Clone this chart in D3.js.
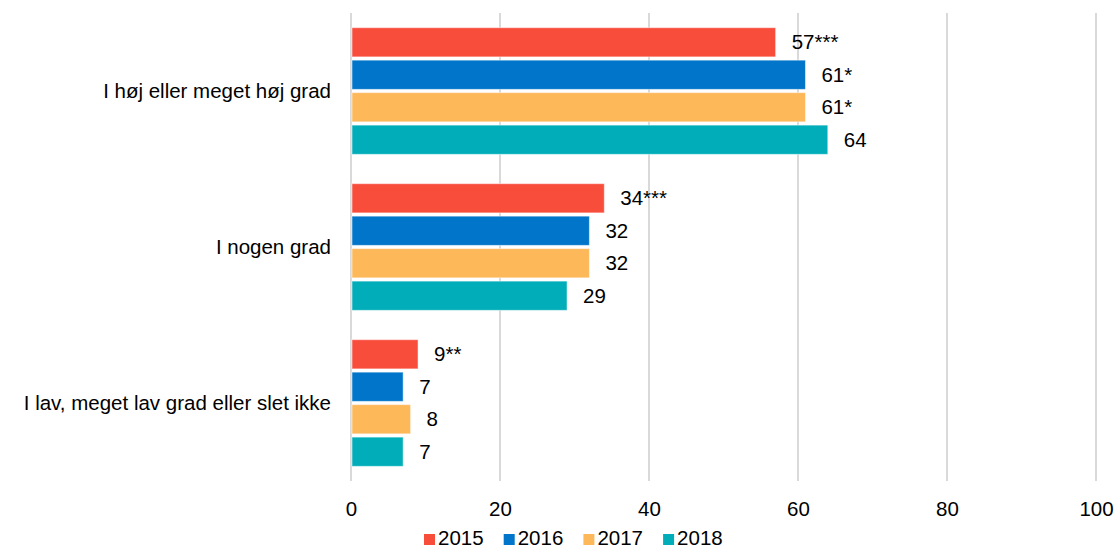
<!DOCTYPE html>
<html>
<head>
<meta charset="utf-8">
<script src="https://cdn.jsdelivr.net/npm/d3@7"></script>
<style>
  html, body { margin: 0; padding: 0; background: #fff; }
  svg { display: block; font-family: "Liberation Sans", Arial, sans-serif; }
</style>
</head>
<body>
<svg id="chart" width="1117" height="549"></svg>
<script>
const categories = ["I høj eller meget høj grad", "I nogen grad", "I lav, meget lav grad eller slet ikke"];
const years = ["2015", "2016", "2017", "2018"];
const colors = ["#F94D3C", "#0075C9", "#FDB859", "#00ADB8"];
const values2015 = [57, 34, 9];
const values2016 = [61, 32, 7];
const values2017 = [61, 32, 8];
const values2018 = [64, 29, 7];
const marks2015 = ["***", "***", "**"];
const marks2016 = ["*", "", ""];
const marks2017 = ["*", "", ""];
const marks2018 = ["", "", ""];
const xTicks = [0, 20, 40, 60, 80, 100];

const seriesValues = [values2015, values2016, values2017, values2018];
const seriesMarks = [marks2015, marks2016, marks2017, marks2018];

const svg = d3.select("#chart");
const fontSize = 20.5;

const x = d3.scaleLinear().domain([0, 100]).range([351, 1096]);
const y = d3.scaleBand().domain(categories).range([13, 481]).paddingInner(0.188).paddingOuter(0.094);
const yInner = d3.scaleBand().domain(years).range([0, y.bandwidth()]).paddingInner(0.1).paddingOuter(0);

// gridlines
svg.append("g").selectAll("line").data(xTicks).join("line")
  .attr("x1", d => x(d)).attr("x2", d => x(d))
  .attr("y1", 13).attr("y2", 481)
  .attr("stroke", "#d9d9d9").attr("stroke-width", 2);

// tick labels via axis
const axis = svg.append("g").attr("transform", "translate(0,481)")
  .call(d3.axisBottom(x).tickValues(xTicks).tickSize(0).tickPadding(0).tickFormat(d3.format("d")));
axis.select(".domain").remove();
axis.selectAll("text").attr("y", 35).attr("dy", null)
  .attr("font-size", fontSize).attr("fill", "#000")
  .attr("font-family", "'Liberation Sans', Arial, sans-serif");

// data table
const rows = [];
categories.forEach((c, ci) => {
  years.forEach((yr, yi) => {
    rows.push({cat: c, year: yr, value: seriesValues[yi][ci], mark: seriesMarks[yi][ci], color: colors[yi]});
  });
});

const g = svg.append("g");
g.selectAll("rect").data(rows).join("rect")
  .attr("x", x(0) + 1)
  .attr("y", d => y(d.cat) + yInner(d.year))
  .attr("width", d => x(d.value) - x(0) - 1)
  .attr("height", yInner.bandwidth())
  .attr("fill", d => d.color)
  .attr("stroke", "rgba(255,255,255,0.5)")
  .attr("stroke-width", 1);

g.selectAll("text.val").data(rows).join("text")
  .attr("class", "val")
  .attr("x", d => x(d.value) + 16)
  .attr("y", d => y(d.cat) + yInner(d.year) + yInner.bandwidth() / 2)
  .attr("dy", "0.35em")
  .attr("font-size", fontSize)
  .attr("fill", "#000")
  .text(d => d.value + d.mark);

// category labels
svg.append("g").selectAll("text").data(categories).join("text")
  .attr("x", 331)
  .attr("y", d => y(d) + y.bandwidth() / 2)
  .attr("dy", "0.35em")
  .attr("text-anchor", "end")
  .attr("font-size", fontSize)
  .attr("fill", "#000")
  .text(d => d);

// legend
const legend = svg.append("g").attr("transform", "translate(424,0)");
const item = legend.selectAll("g").data(years).join("g")
  .attr("transform", (d, i) => `translate(${i * 79.7},0)`);
item.append("rect").attr("x", 0).attr("y", 534).attr("width", 11).attr("height", 11)
  .attr("fill", (d, i) => colors[i]);
item.append("text").attr("x", 14).attr("y", 545)
  .attr("font-size", fontSize).attr("fill", "#000").text(d => d);
</script>
</body>
</html>
